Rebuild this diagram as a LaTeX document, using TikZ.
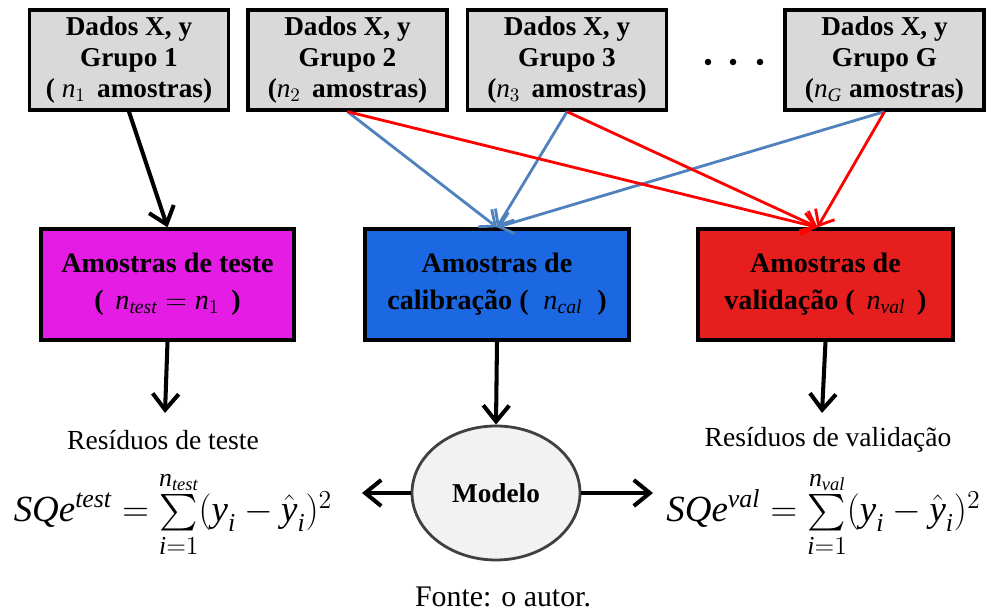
\documentclass[tikz,border=0pt]{standalone}
\usepackage{fix-cm}
\usepackage{amsmath}
\usepackage{fontspec}
\setmainfont{Liberation Serif}
\usepackage{tikz}
\usetikzlibrary{arrows.meta,positioning,shapes.geometric,calc}
\tikzset{
  flowarrow/.style={-{Straight Barb[length=3.2mm,width=5.2mm]}, line width=2.3pt, draw=black},
  calarrow/.style={-{Straight Barb[length=2.6mm,width=4.4mm]}, line width=1.6pt, draw=CalLine},
  valarrow/.style={calarrow, draw=ValLine}
}
% variaveis em italico do texto
\newcommand{\mv}[1]{\text{\normalfont\itshape #1}}
\definecolor{GrupoGray}{HTML}{D9D9D9}
\definecolor{TesteFill}{HTML}{E41CE4}
\definecolor{CalFill}{HTML}{1C68E2}
\definecolor{ValFill}{HTML}{E61E1E}
\definecolor{CalLine}{HTML}{4F81BD}
\definecolor{ValLine}{HTML}{FF0000}
\definecolor{ModelFill}{HTML}{F2F2F2}
\definecolor{ModelRim}{HTML}{404040}

\begin{document}
\begin{tikzpicture}[
  grupo/.style={draw, line width=1.9pt, fill=GrupoGray, align=center, minimum width=3.98cm, minimum height=2.0cm, inner sep=0pt, font=\fontsize{15.5}{17.5}\selectfont\bfseries},
  amostra/.style={draw, line width=1.9pt, align=center, minimum height=2.22cm, inner sep=0pt, font=\fontsize{16}{21}\selectfont\bfseries},
  residuo/.style={font=\fontsize{15.7}{18}\selectfont},
  sqe/.style={anchor=base, font=\fontsize{21}{26}\selectfont}
]
\useasboundingbox (0,0) rectangle (19.86,12.28);

% grupos de dados
\node[grupo] at (2.58,11.08) (g1) {Dados X, y\\Grupo 1\\( $\mv{n}_1$\, amostras)};
\node[grupo] at (6.95,11.08) (g2) {Dados X, y\\Grupo 2\\($\mv{n}_2$\, amostras)};
\node[grupo] at (11.34,11.08) (g3) {Dados X, y\\Grupo 3\\($\mv{n}_3$\, amostras)};
\node[grupo] at (17.69,11.08) (gG) {Dados X, y\\Grupo G\\($\mv{n}_{\mv{G}}$ amostras)};
\foreach \x in {14.16,14.66,15.2}
  \fill (\x,11.04) circle (0.065);

% conjuntos de amostras
\node[amostra, fill=TesteFill, minimum width=5.06cm] at (3.35,6.59) (test) {Amostras de teste\\( \,$\mv{n}_{\mv{test}} = \mv{n}_1$\, )};
\node[amostra, fill=CalFill, minimum width=5.28cm] at (9.94,6.59) (cal) {Amostras de\\calibração ( \;$\mv{n}_{\mv{cal}}$\; )};
\node[amostra, fill=ValFill, minimum width=5.10cm] at (16.51,6.59) (val) {Amostras de\\validação ( \,$\mv{n}_{\mv{val}}$\, )};

\draw[flowarrow] (g1.south) -- (test.north);
\foreach \g in {g2,g3,gG}
  \draw[calarrow] (\g.south) -- (cal.north);
\foreach \g in {g2,g3,gG}
  \draw[valarrow] (\g.south) -- ($(val.north)+(-0.16,0)$);

% modelo e residuos
\node[ellipse, draw=ModelRim, line width=1.6pt, fill=ModelFill, minimum width=3.36cm, minimum height=2.68cm, font=\fontsize{15.5}{18}\selectfont\bfseries] at (9.92,2.42) (modelo) {Modelo};
\coordinate (rt) at (3.30,4.02);
\coordinate (rv) at (16.44,4.02);
\coordinate (lt) at (7.24,2.42);
\coordinate (lv) at (13.06,2.42);
\draw[flowarrow] (test.south) -- (rt);
\draw[flowarrow] (val.south) -- (rv);
\draw[flowarrow] (cal.south) -- (modelo.north);
\draw[flowarrow] (modelo.west) -- (lt);
\draw[flowarrow] (modelo.east) -- (lv);

\node[residuo] at (3.26,3.48) (restest) {Resíduos de teste};
\node[residuo] at (16.56,3.48) (resval) {Resíduos de validação};
\node[sqe] at (3.46,1.84) (sqtest) {$\mv{SQe}^{\mv{test}} = \sum\limits_{\mv{i}=1}^{\mv{n}_{\mv{test}}} (\mv{y}_{\mv{i}} - \hat{\mv{y}}_{\mv{i}})^2$};
\node[sqe] at (16.47,1.84) (sqval) {$\mv{SQe}^{\mv{val}} = \sum\limits_{\mv{i}=1}^{\mv{n}_{\mv{val}}} (\mv{y}_{\mv{i}} - \hat{\mv{y}}_{\mv{i}})^2$};

\node[anchor=base, font=\fontsize{17}{20}\selectfont] at (10.06,0.14) (fonte) {Fonte: o autor.};
\end{tikzpicture}
\end{document}
